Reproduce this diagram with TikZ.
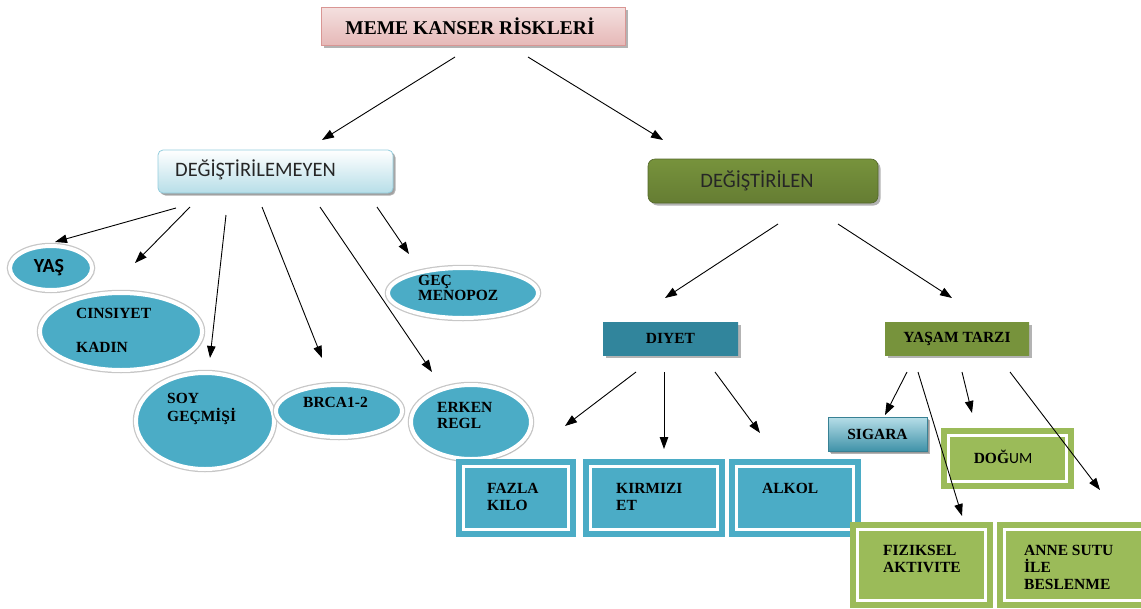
\documentclass[tikz,border=0pt]{standalone}
\usepackage{fontspec}
\setmainfont{Liberation Serif}
\newfontfamily\calfont{Carlito}
\usetikzlibrary{shapes.geometric,arrows.meta,shadows}
\definecolor{teal5}{HTML}{4BACC6}
\definecolor{tealdk}{HTML}{31859C}
\definecolor{grn}{HTML}{9BBB59}
\definecolor{grndk}{HTML}{77933C}
\definecolor{pinkA}{HTML}{F4E0DF}
\definecolor{pinkB}{HTML}{E6B9B8}
\definecolor{pinkC}{HTML}{D99694}
\definecolor{lbB}{HTML}{B7DEE8}
\definecolor{lbC}{HTML}{93CDDD}
\begin{document}
\begin{tikzpicture}[x=1pt,y=-1pt,
  lbl/.style={font=\fontsize{15.5}{17}\selectfont\bfseries, align=left, inner sep=0pt, text=black},
  sanslbl/.style={font=\calfont\fontsize{20.5}{23}\selectfont, inner sep=0pt, text=black!85},
  arr/.style={-{Triangle[length=12pt,width=8.5pt]}, line width=0.9pt, black},
  oval/.style={ellipse, fill=teal5, draw=white, line width=4pt,
    preaction={draw=black!22, line width=6.5pt},
    drop shadow={shadow xshift=1.5pt, shadow yshift=-2pt, opacity=0.3}, inner sep=0pt},
  dframe/.style={rectangle, fill=#1, draw=white, line width=3pt,
    preaction={draw=#1, line width=15pt}, inner sep=0pt},
  sbox/.style={rectangle, inner sep=0pt,
    drop shadow={shadow xshift=2.5pt, shadow yshift=-2.5pt, opacity=0.6}}
]
\useasboundingbox (0,0) rectangle (1141,608);
\clip (0,0) rectangle (1141,608);

% top
\node[sbox, minimum width=304pt, minimum height=38pt, top color=pinkA, bottom color=pinkB,
  draw=pinkC, line width=0.8pt, font=\fontsize{19.5}{22}\selectfont\bfseries]
  (title) at (473,26) {\hspace{-6pt}MEME KANSER RİSKLERİ};

\node[sbox, rounded corners=5pt, minimum width=235pt, minimum height=43pt,
  top color=white, bottom color=lbB, draw=lbC, line width=0.8pt,
  drop shadow={shadow xshift=1.5pt, shadow yshift=-2pt, opacity=0.35}]
  (degm) at (275.5,171.5) {};
\node[sanslbl, anchor=west] (tdegm) at (175,170) {DEĞİŞTİRİLEMEYEN};

\node[sbox, rounded corners=7pt, minimum width=230pt, minimum height=44pt,
  top color=grndk, middle color=grn!85!grndk, bottom color=grndk!85!black,
  draw=grndk!70!black, line width=0.6pt, sanslbl]
  (deg) at (763,181) {\hspace{-12pt}\raisebox{2pt}{DEĞİŞTİRİLEN}};

% ovals
\node[oval, minimum width=82pt, minimum height=44pt] (yas) at (51,268) {};
\node[oval, minimum width=162pt, minimum height=77pt] (cins) at (121,331.5) {};
\node[oval, minimum width=138pt, minimum height=96pt] (soy) at (205,421) {};
\node[oval, minimum width=126pt, minimum height=52pt] (brca) at (339,411) {};
\node[oval, minimum width=120pt, minimum height=74pt] (erken) at (471,422) {};
\node[oval, minimum width=150pt, minimum height=50pt] (gec) at (463,293) {};

\node[font=\calfont\bfseries\fontsize{20}{22}\selectfont, inner sep=0pt] (tyas) at (49,268) {YAŞ};
\node[lbl, anchor=west] (tcins) at (76,330) {CINSIYET\\[17pt]KADIN};
\node[lbl, anchor=west, font=\fontsize{15.5}{18}\selectfont\bfseries] (tsoy) at (167,409) {SOY\\GEÇMİŞİ};
\node[lbl, anchor=west] (tbrca) at (303,402) {BRCA1-2};
\node[lbl, anchor=west, font=\fontsize{15.5}{16}\selectfont\bfseries] (terken) at (437,415) {ERKEN\\REGL};
\node[lbl, anchor=west, font=\fontsize{15.5}{15}\selectfont\bfseries] (tgec) at (418,287.5) {GEÇ\\MENOPOZ};

% right side headers
\node[sbox, minimum width=135pt, minimum height=33pt,
  top color=tealdk, middle color=teal5, bottom color=tealdk, lbl]
  (diyet) at (670.5,338.5) {DIYET};
\node[sbox, minimum width=144pt, minimum height=33pt,
  top color=grndk, middle color=grn!80!grndk, bottom color=grndk, lbl]
  (yasam) at (957,338.5) {YAŞAM TARZI};
\node[sbox, minimum width=99pt, minimum height=34pt,
  top color=lbB, middle color=teal5, bottom color=teal5!85!black,
  draw=teal5!75!black, line width=0.6pt, lbl,
  drop shadow={shadow xshift=2pt, shadow yshift=-2pt, opacity=0.5}]
  (sigara) at (877.5,434) {SIGARA};

% framed boxes
\node[dframe=teal5, minimum width=105pt, minimum height=63pt] (fazla) at (516,498) {};
\node[dframe=teal5, minimum width=127pt, minimum height=63pt] (kirmizi) at (654,498) {};
\node[dframe=teal5, minimum width=117pt, minimum height=63pt] (alkol) at (795,498) {};
\node[dframe=grn, minimum width=118pt, minimum height=46pt] (dogum) at (1007.5,458.5) {};
\node[dframe=grn, minimum width=128pt, minimum height=71pt] (fiziksel) at (921.5,565) {};
\node[dframe=grn, minimum width=138pt, minimum height=71pt] (anne) at (1073.5,565) {};

\node[lbl, anchor=west] (tfazla) at (487,496.5) {FAZLA\\KILO};
\node[lbl, anchor=west] (tkirmizi) at (616,496.5) {KIRMIZI\\ET};
\node[lbl, anchor=west] (talkol) at (762,488) {ALKOL};
\node[lbl] (tdogum) at (1003,457) {DOĞ{\calfont\mdseries UM}};
\node[lbl, anchor=west] (tfiz) at (883,558.5) {FIZIKSEL\\AKTIVITE};
\node[lbl, anchor=west] (tanne) at (1024,567) {ANNE SUTU\\İLE\\BESLENME};

% arrow end points
\coordinate (a1s) at (455,57);  \coordinate (a1e) at (322,140);
\coordinate (a2s) at (528,57);  \coordinate (a2e) at (663,140);
\coordinate (b1s) at (176,208); \coordinate (b1e) at (55,242);
\coordinate (b2s) at (190,207); \coordinate (b2e) at (135,263);
\coordinate (b3s) at (226,215); \coordinate (b3e) at (210,358);
\coordinate (b4s) at (262,207); \coordinate (b4e) at (322,358);
\coordinate (b5s) at (320,207); \coordinate (b5e) at (432,372);
\coordinate (b6s) at (377,207); \coordinate (b6e) at (409,254);
\coordinate (c1s) at (778,224); \coordinate (c1e) at (665,298);
\coordinate (c2s) at (838,224); \coordinate (c2e) at (952,298);
\coordinate (d1s) at (636,372); \coordinate (d1e) at (565,426);
\coordinate (d2s) at (664,372); \coordinate (d2e) at (664,449);
\coordinate (d3s) at (715,372); \coordinate (d3e) at (760,433);
\coordinate (e1s) at (907,372); \coordinate (e1e) at (885,415);
\coordinate (e2s) at (918,372); \coordinate (e2e) at (962,516);
\coordinate (e3s) at (962,372); \coordinate (e3e) at (972,413);
\coordinate (e4s) at (1010,372); \coordinate (e4e) at (1100,490);

\foreach \a in {a1,a2,b1,b2,b3,b4,b5,b6,c1,c2,d1,d2,d3,e1,e2,e3,e4}
  \draw[arr] (\a s) -- (\a e);
\end{tikzpicture}
\end{document}
